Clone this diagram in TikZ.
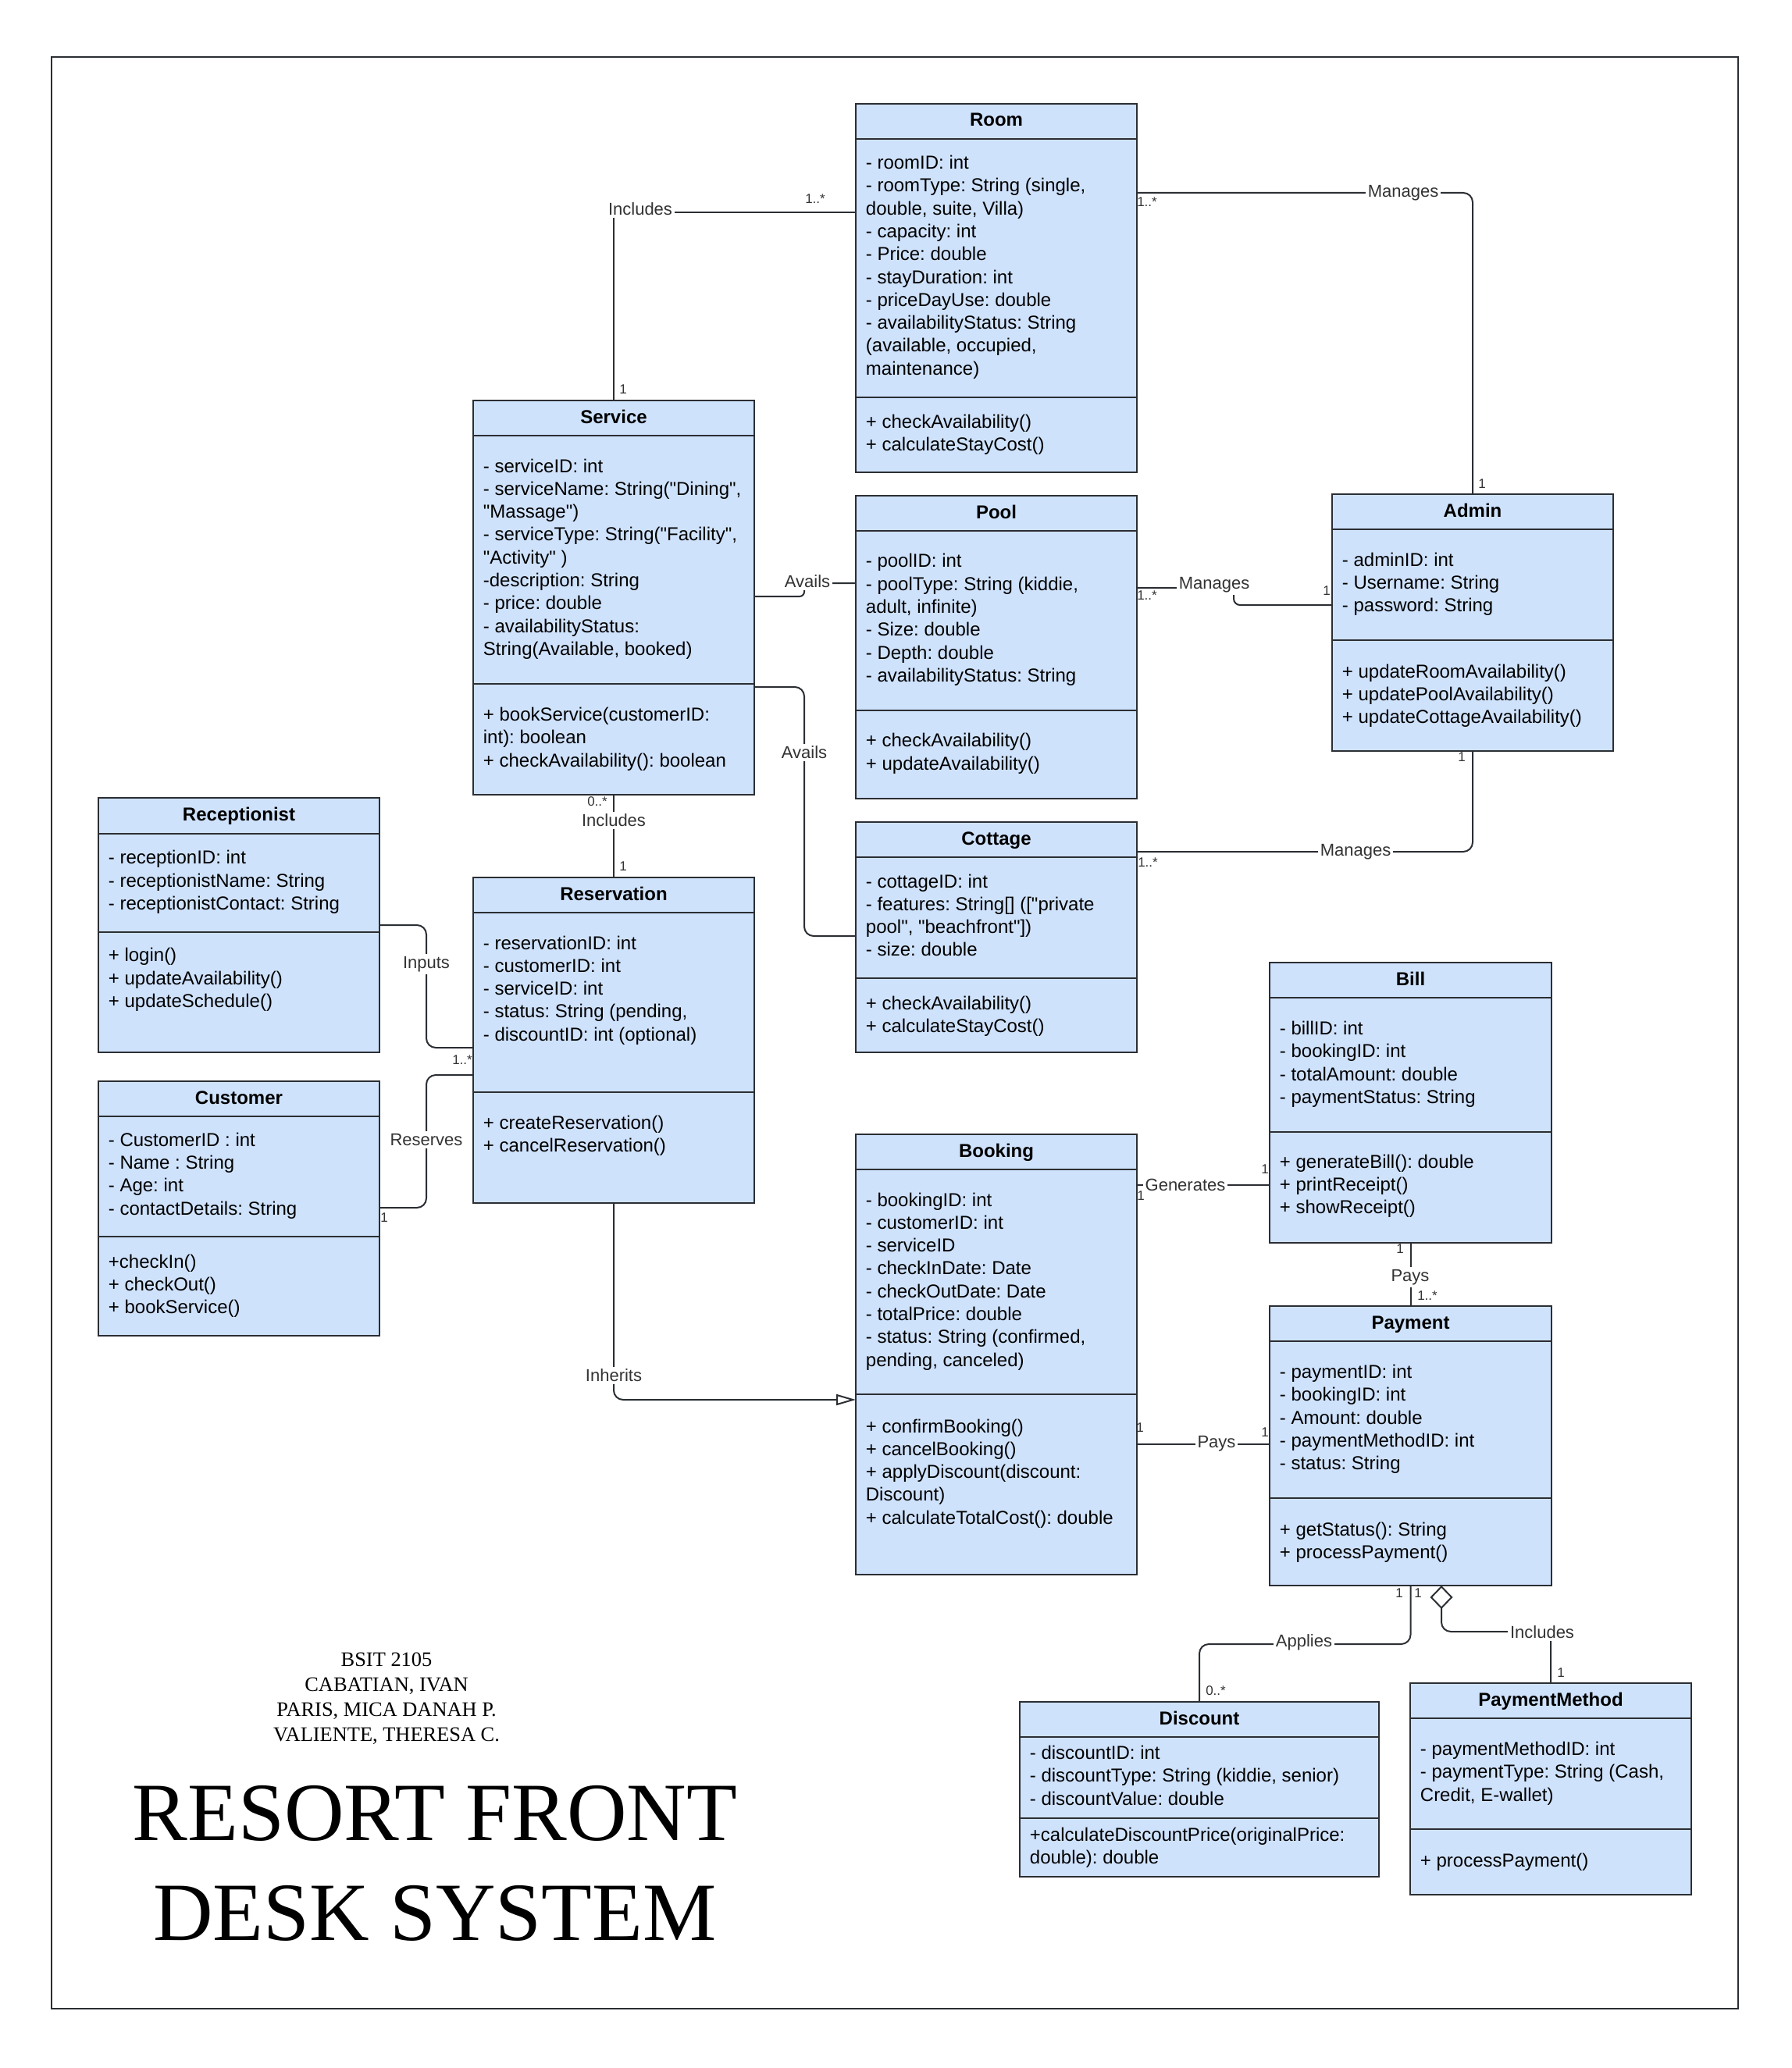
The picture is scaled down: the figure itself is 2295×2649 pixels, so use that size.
\documentclass[tikz,border=0pt]{standalone}
\usepackage{fontspec}
\setmainfont{Liberation Sans}[Ligatures=TeXOff]
\newfontfamily\serifface{Liberation Serif}
\usetikzlibrary{arrows.meta,fit}
\definecolor{lc}{HTML}{2B2E33}
\definecolor{boxfill}{HTML}{CFE2FC}
\definecolor{lbltext}{HTML}{333333}
\frenchspacing

\newcommand\umlbox[6]{%
  \node[classbox, fit={(#2,#3) (#4,#5)}] (#1) {};
  \node[classtitle, anchor=base] (#1-title) at ({(#2+#4)/2},{#3+29}) {#6};}
\newcommand\umlsep[2]{\draw[classline] (#1.west |- 0,#2) -- (#1.east |- 0,#2);}
\newcommand\umllines[4]{%
  \foreach \mytext [count=\i from 0] in {#4} {%
    \node[classtext, anchor=base west] (#1-\i) at (#2,{#3+\i*29.3}) {\mytext};}}

\begin{document}
\begin{tikzpicture}[x=0.5pt,y=-0.5pt,
  classbox/.style={draw=lc, fill=boxfill, line width=1.1pt, inner sep=0pt, outer sep=0pt},
  classline/.style={draw=lc, line width=1.1pt},
  classtitle/.style={font=\bfseries\fontsize{12}{14}\selectfont, inner sep=0pt, text=black},
  classtext/.style={font=\fontsize{12}{14}\selectfont, inner sep=0pt, text=black},
  conn/.style={draw=lc, line width=1pt},
  lbl/.style={font=\fontsize{11}{12}\selectfont, text=lbltext, fill=white, inner sep=1.5pt},
  mult/.style={font=\fontsize{8.5}{10}\selectfont, text=lbltext, inner sep=0pt},
  pageframe/.style={draw=lc, line width=1pt},
  authortext/.style={font=\serifface\fontsize{13.2}{15}\selectfont, inner sep=0pt, anchor=base},
  titletext/.style={font=\serifface\fontsize{53}{60}\selectfont, inner sep=0pt, anchor=base}]

\useasboundingbox (0,0) rectangle (2295,2649);
\draw[pageframe] (66,73) rectangle (2226,2573);

% ---------- classes ----------
\umlbox{room}{1096}{133}{1456}{605}{Room}
\umlsep{room}{178}\umlsep{room}{509}
\umllines{room-a}{1108.5}{216.5}{{- roomID: int},{- roomType: String (single,},{double, suite, Villa)},{- capacity: int},{- Price: double},{- stayDuration: int},{- priceDayUse: double},{- availabilityStatus: String},{(available, occupied,},{maintenance)}}
\umllines{room-m}{1108.5}{548.5}{{+ checkAvailability()},{+ calculateStayCost()}}

\umlbox{service}{606}{513}{966}{1018}{Service}
\umlsep{service}{558}\umlsep{service}{876}
\umllines{service-a}{618.5}{605}{{- serviceID: int},{- serviceName: String("Dining",},{"Massage")},{- serviceType: String("Facility",},{"Activity" )},{-description: String},{- price: double},{- availabilityStatus:},{String(Available, booked)}}
\umllines{service-m}{618.5}{923.5}{{+ bookService(customerID:},{int): boolean},{+ checkAvailability(): boolean}}

\umlbox{pool}{1096}{635}{1456}{1023}{Pool}
\umlsep{pool}{680}\umlsep{pool}{910}
\umllines{pool-a}{1108.5}{726.8}{{- poolID: int},{- poolType: String (kiddie,},{adult, infinite)},{- Size: double},{- Depth: double},{- availabilityStatus: String}}
\umllines{pool-m}{1108.5}{956.8}{{+ checkAvailability()},{+ updateAvailability()}}

\umlbox{admin}{1706}{633}{2066}{962}{Admin}
\umlsep{admin}{678}\umlsep{admin}{820}
\umllines{admin-a}{1718.5}{725}{{- adminID: int},{- Username: String},{- password: String}}
\umllines{admin-m}{1718.5}{868}{{+ updateRoomAvailability()},{+ updatePoolAvailability()},{+ updateCottageAvailability()}}

\umlbox{cottage}{1096}{1053}{1456}{1348}{Cottage}
\umlsep{cottage}{1098}\umlsep{cottage}{1253}
\umllines{cottage-a}{1108.5}{1137}{{- cottageID: int},{- features: String[] (["private},{pool", "beachfront"])},{- size: double}}
\umllines{cottage-m}{1108.5}{1293}{{+ checkAvailability()},{+ calculateStayCost()}}

\umlbox{bill}{1626}{1233}{1987}{1592}{Bill}
\umlsep{bill}{1278}\umlsep{bill}{1450}
\umllines{bill-a}{1638.5}{1325.5}{{- billID: int},{- bookingID: int},{- totalAmount: double},{- paymentStatus: String}}
\umllines{bill-m}{1638.5}{1496}{{+ generateBill(): double},{+ printReceipt()},{+ showReceipt()}}

\umlbox{booking}{1096}{1453}{1456}{2017}{Booking}
\umlsep{booking}{1498}\umlsep{booking}{1786}
\umllines{booking-a}{1108.5}{1545}{{- bookingID: int},{- customerID: int},{- serviceID},{- checkInDate: Date},{- checkOutDate: Date},{- totalPrice: double},{- status: String (confirmed,},{pending, canceled)}}
\umllines{booking-m}{1108.5}{1835}{{+ confirmBooking()},{+ cancelBooking()},{+ applyDiscount(discount:},{Discount)},{+ calculateTotalCost(): double}}

\umlbox{payment}{1626}{1673}{1987}{2031}{Payment}
\umlsep{payment}{1718}\umlsep{payment}{1919}
\umllines{payment-a}{1638.5}{1765.5}{{- paymentID: int},{- bookingID: int},{- Amount: double},{- paymentMethodID: int},{- status: String}}
\umllines{payment-m}{1638.5}{1967}{{+ getStatus(): String},{+ processPayment()}}

\umlbox{receptionist}{126}{1022}{486}{1348}{Receptionist}
\umlsep{receptionist}{1068}\umlsep{receptionist}{1194}
\umllines{receptionist-a}{138.5}{1106.7}{{- receptionID: int},{- receptionistName: String},{- receptionistContact: String}}
\umllines{receptionist-m}{138.5}{1231.7}{{+ login()},{+ updateAvailability()},{+ updateSchedule()}}

\umlbox{customer}{126}{1385}{486}{1711}{Customer}
\umlsep{customer}{1430}\umlsep{customer}{1584}
\umllines{customer-a}{138.5}{1468.3}{{- CustomerID : int},{- Name : String},{- Age: int},{- contactDetails: String}}
\umllines{customer-m}{138.5}{1624}{{+checkIn()},{+ checkOut()},{+ bookService()}}

\umlbox{reservation}{606}{1124}{966}{1541}{Reservation}
\umlsep{reservation}{1169}\umlsep{reservation}{1399}
\umllines{reservation-a}{618.5}{1216}{{- reservationID: int},{- customerID: int},{- serviceID: int},{- status: String (pending,},{- discountID: int (optional)}}
\umllines{reservation-m}{618.5}{1446}{{+ createReservation()},{+ cancelReservation()}}

\umlbox{discount}{1306}{2180}{1766}{2404}{Discount}
\umlsep{discount}{2225}\umlsep{discount}{2329}
\umllines{discount-a}{1318.5}{2253.5}{{- discountID: int},{- discountType: String (kiddie, senior)},{- discountValue: double}}
\umllines{discount-m}{1318.5}{2358}{{+calculateDiscountPrice(originalPrice:},{double): double}}

\umlbox{paymentmethod}{1806}{2156}{2166}{2427}{PaymentMethod}
\umlsep{paymentmethod}{2201}\umlsep{paymentmethod}{2343}
\umllines{paymentmethod-a}{1818.5}{2248.5}{{- paymentMethodID: int},{- paymentType: String (Cash,},{Credit, E-wallet)}}
\umllines{paymentmethod-m}{1818.5}{2391}{{+ processPayment()}}

% ---------- connectors ----------
\draw[conn] (service.north) -- (786,272) -- (room.west |- 0,272);
\draw[conn, rounded corners=6pt] (room.east |- 0,247) -| (admin.north);
\draw[conn, rounded corners=4pt] (pool.east |- 0,753) -- (1580,753) -- (1580,775) -- (admin.west |- 0,775);
\draw[conn, rounded corners=6pt] (cottage.east |- 0,1091) -| (admin.south);
\draw[conn, rounded corners=3pt] (service.east |- 0,764) -- (1030,764) -- (1030,747) -- (pool.west |- 0,747);
\draw[conn, rounded corners=6pt] (service.east |- 0,880) -- (1030,880) -- (1030,1199) -- (cottage.west |- 0,1199);
\draw[conn] (service.south) -- (reservation.north);
\draw[conn, rounded corners=6pt] (receptionist.east |- 0,1185) -- (546,1185) -- (546,1342) -- (reservation.west |- 0,1342);
\draw[conn, rounded corners=6pt] (customer.east |- 0,1547) -- (546,1547) -- (546,1377) -- (reservation.west |- 0,1377);
\draw[conn, rounded corners=6pt, -{Triangle[open,length=12.5pt,width=7pt]}] (reservation.south) -- (786,1793) -- (booking.west |- 0,1793);
\draw[conn] (booking.east |- 0,1518) -- (bill.west |- 0,1518);
\draw[conn] (booking.east |- 0,1850) -- (payment.west |- 0,1850);
\draw[conn] (bill.south) -- (payment.north);
\draw[conn, rounded corners=6pt] (payment.south) -- (payment.south |- 0,2106) -- (discount.north |- 0,2106) -- (discount.north);
\draw[conn, rounded corners=6pt, {Diamond[open,length=15pt,width=14.5pt]}-] (payment.south -| 1846,0) -- (1846,2090) -- (paymentmethod.north |- 0,2090) -- (paymentmethod.north);

% ---------- connector labels ----------
\node[lbl] (l-inc1) at (820,268) {Includes};
\node[lbl] (l-man1) at (1797,247) {Manages};
\node[lbl] (l-man2) at (1555,749) {Manages};
\node[lbl] (l-man3) at (1736,1091) {Manages};
\node[lbl] (l-av1) at (1034,745) {Avails};
\node[lbl] (l-av2) at (1030,964) {Avails};
\node[lbl] (l-inc2) at (786,1051) {Includes};
\node[lbl] (l-inp) at (546,1235) {Inputs};
\node[lbl] (l-res) at (546,1460) {Reserves};
\node[lbl] (l-inh) at (786,1762) {Inherits};
\node[lbl] (l-gen) at (1518,1518) {Generates};
\node[lbl] (l-pay1) at (1558,1849) {Pays};
\node[lbl] (l-pay2) at (1806,1636) {Pays};
\node[lbl] (l-app) at (1670,2104) {Applies};
\node[lbl] (l-inc3) at (1975,2091) {Includes};

% ---------- multiplicities ----------
\node[mult] (m1) at (1044,255) {1..*};
\node[mult] (m2) at (798,499) {1};
\node[mult] (m3) at (1469,259) {1..*};
\node[mult] (m4) at (1898,620) {1};
\node[mult] (m5) at (1469,763) {1..*};
\node[mult] (m6) at (1699,757) {1};
\node[mult] (m7) at (1470,1105) {1..*};
\node[mult] (m8) at (1872,970) {1};
\node[mult] (m9) at (765,1027) {0..*};
\node[mult] (m10) at (798,1110) {1};
\node[mult] (m11) at (592,1358) {1..*};
\node[mult] (m12) at (492,1560) {1};
\node[mult] (m13) at (1620,1498) {1};
\node[mult] (m14) at (1461,1532) {1};
\node[mult] (m15) at (1460,1829) {1};
\node[mult] (m16) at (1620,1835) {1};
\node[mult] (m17) at (1793,1600) {1};
\node[mult] (m18) at (1828,1660) {1..*};
\node[mult] (m19) at (1792,2041) {1};
\node[mult] (m20) at (1816,2041) {1};
\node[mult] (m21) at (1557,2166) {0..*};
\node[mult] (m22) at (1999,2143) {1};

% ---------- title block ----------
\node[authortext] (a1) at (495,2134) {BSIT 2105};
\node[authortext] (a2) at (495,2166) {CABATIAN, IVAN};
\node[authortext] (a3) at (495,2198) {PARIS, MICA DANAH P.};
\node[authortext] (a4) at (495,2230) {VALIENTE, THERESA C.};
\node[titletext] (t1) at (557,2357) {RESORT FRONT};
\node[titletext] (t2) at (557,2485) {DESK SYSTEM};
\end{tikzpicture}
\end{document}
